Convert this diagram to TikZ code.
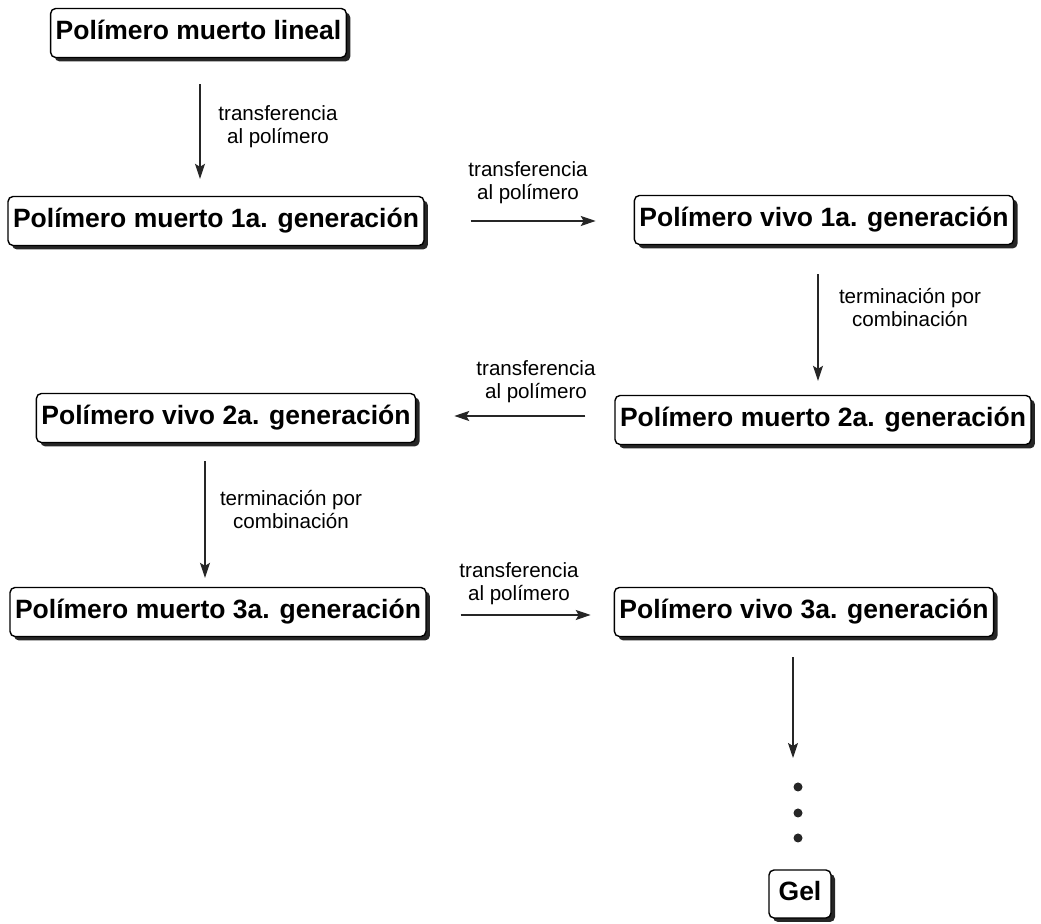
\documentclass[tikz,border=0pt]{standalone}
\usepackage{fontspec}
\setmainfont{Liberation Sans}
\usetikzlibrary{shadows,arrows.meta}

\tikzset{
  box/.style={draw=black, line width=0.7pt, rounded corners=2.5pt, fill=white,
    font=\bfseries\fontsize{13.25}{15}\selectfont,
    inner xsep=2.5pt, inner ysep=0pt, minimum height=24.5pt,
    text height=10pt, text depth=3pt,
    drop shadow={shadow xshift=2pt, shadow yshift=-2pt, fill=black!85, opacity=1}},
  lbl/.style={font=\fontsize{10.3}{11.5}\selectfont, align=center, inner sep=0pt},
  arr/.style={draw=black!85, line width=0.55pt,
    -{Stealth[length=7.5pt, width=5pt, inset=1.5pt]}},
  dot/.style={circle, fill=black!85, inner sep=0pt, minimum size=4.5pt},
}

\begin{document}
\begin{tikzpicture}[x=0.5pt, y=-0.5pt]
  \useasboundingbox (0,0) rectangle (1041,924);

  % generations of polymer
  \node[box] (b1) at (198.5,33) {Polímero muerto lineal};
  \node[box] (b2) at (216,221) {Polímero muerto 1a. generación};
  \node[box] (b3) at (824,220) {Polímero vivo 1a. generación};
  \node[box] (b4) at (823,420) {Polímero muerto 2a. generación};
  \node[box] (b5) at (226,418) {Polímero vivo 2a. generación};
  \node[box] (b6) at (218,612) {Polímero muerto 3a. generación};
  \node[box] (b7) at (804,612) {Polímero vivo 3a. generación};
  \node[box, minimum width=31pt, minimum height=24pt] (gel) at (800,894) {Gel};

  % continuation dots
  \node[dot] (d1) at (798,787) {};
  \node[dot] (d2) at (798,813) {};
  \node[dot] (d3) at (798,838) {};
  \coordinate (tip7) at (793,758);

  % reaction steps
  \draw[arr, shorten <=13pt, shorten >=8.5pt]
    ([xshift=0.75pt]b1.south) -- ([xshift=0.75pt]b1.south |- b2.north);
  \draw[arr, shorten <=23pt, shorten >=19pt]
    (b2.east) -- (b2.east -| b3.west);
  \draw[arr, shorten <=14.5pt, shorten >=7pt]
    ([xshift=-3pt]b3.south) -- ([xshift=-3pt]b3.south |- b4.north);
  \draw[arr, shorten <=14.5pt, shorten >=19pt]
    ([yshift=2pt]b4.west) -- ([yshift=2pt]b4.west -| b5.east);
  \draw[arr, shorten <=9pt, shorten >=4.5pt]
    ([xshift=-10.5pt]b5.south) -- ([xshift=-10.5pt]b5.south |- b6.north);
  \draw[arr, shorten <=17pt, shorten >=11.5pt]
    ([yshift=-1.5pt]b6.east) -- ([yshift=-1.5pt]b6.east -| b7.west);
  \draw[arr, shorten <=10pt]
    ([xshift=-5.5pt]b7.south) -- (tip7);

  % step labels
  \node[lbl] (l1) at (278,126.5) {transferencia\\al polímero};
  \node[lbl] (l2) at (528,182.5) {transferencia\\al polímero};
  \node[lbl] (l3) at (910,308) {terminación por\\combinación};
  \node[lbl] (l4) at (536,381.5) {transferencia\\al polímero};
  \node[lbl] (l5) at (291,510) {terminación por\\combinación};
  \node[lbl] (l6) at (519,583.5) {transferencia\\al polímero};
\end{tikzpicture}
\end{document}
